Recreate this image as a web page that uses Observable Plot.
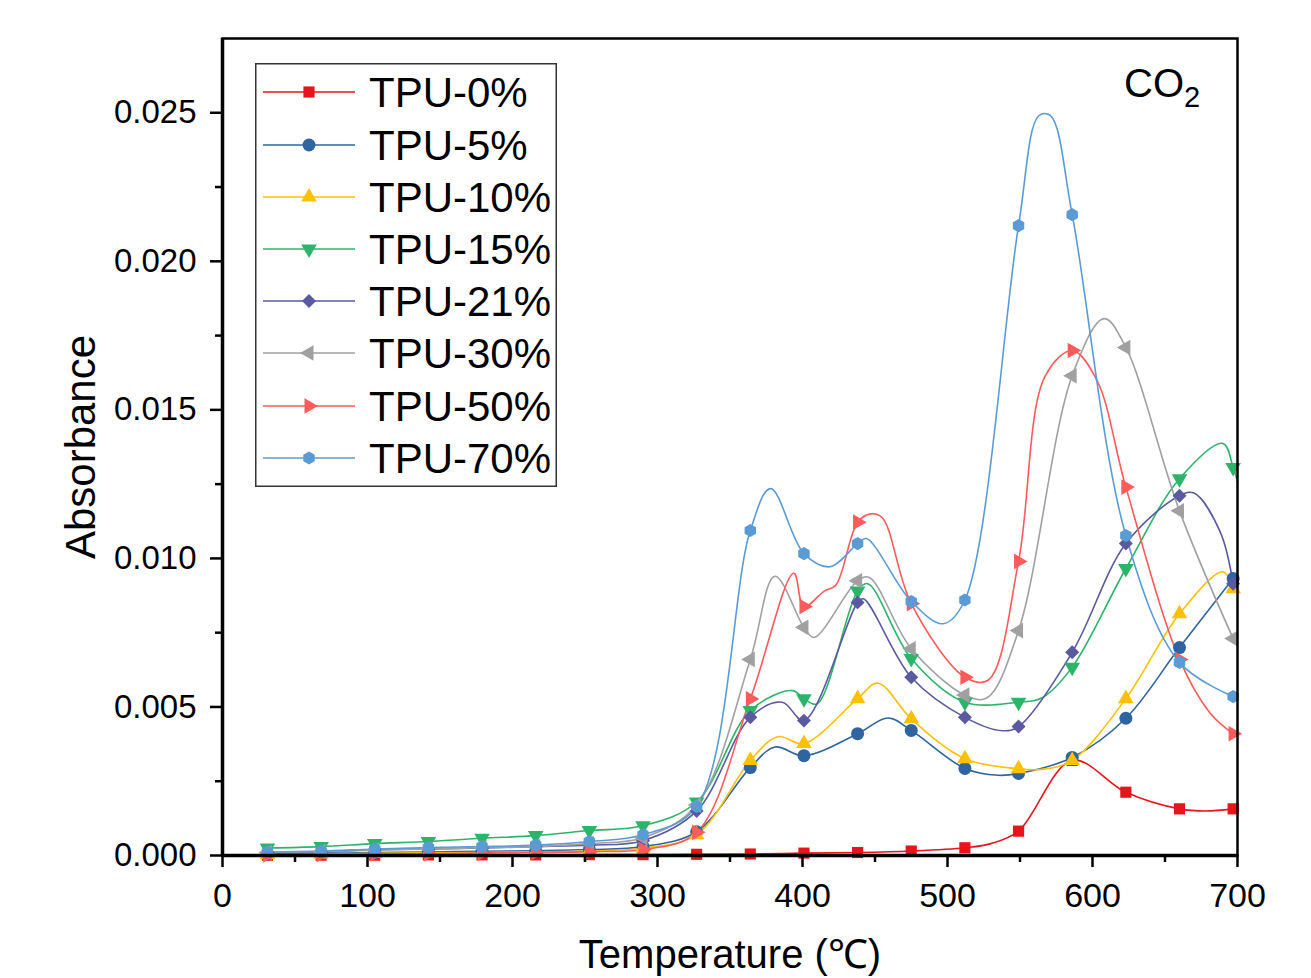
<!DOCTYPE html>
<html><head><meta charset="utf-8">
<script src="https://cdn.jsdelivr.net/npm/d3@7"></script>
<script src="https://cdn.jsdelivr.net/npm/@observablehq/plot@0.6"></script>
<style>
body{margin:0;background:#fff;font-family:"Liberation Sans",Arial,sans-serif;}
#wrap{position:relative;width:1311px;height:978px;overflow:hidden;}
#legend{position:absolute;left:255px;top:63px;}
#co2{position:absolute;left:1124px;top:63px;font-size:40px;color:#000;line-height:1;}
#co2 sub{font-size:29px;vertical-align:-10px;line-height:0;}
</style></head><body><div id="wrap"><div id="co2">CO<sub>2</sub></div></div>
<script>
// ---- data ----
const markerTemps = [31,68,105,142,179,216,253,290,327,364,401,438,475,512,549,586,623,660,697];
const seriesNames = ["TPU-0%","TPU-5%","TPU-10%","TPU-15%","TPU-21%","TPU-30%","TPU-50%","TPU-70%"];
const seriesColors = ["#e8141b","#2e64a0","#ffc000","#2cb56a","#5a5aa0","#a0a0a0","#ff5b5b","#5b9bd5"];

const tpu0  = [0.00001,0.00001,0.00001,0.00002,0.00002,0.00002,0.00003,0.00003,0.00004,0.00005,0.00008,0.0001,0.00015,0.00026,0.00082,0.0032,0.00213,0.00157,0.00157];
const tpu5  = [0.00005,0.00007,0.0001,0.00012,0.00014,0.00016,0.0002,0.0003,0.0008,0.00296,0.00336,0.0041,0.00421,0.00293,0.00276,0.0033,0.00462,0.007,0.00932];
const tpu10 = [0.00003,0.00005,0.00007,0.00009,0.0001,0.00012,0.00015,0.00025,0.0007,0.0032,0.00377,0.00528,0.0046,0.00326,0.00292,0.0032,0.00528,0.00814,0.00898];
const tpu15 = [0.00025,0.0003,0.0004,0.00047,0.00058,0.00067,0.00084,0.001,0.0018,0.00488,0.00528,0.0089,0.00663,0.00516,0.00516,0.00634,0.00966,0.01268,0.01306];
const tpu21 = [0.00008,0.0001,0.0002,0.00022,0.00025,0.0003,0.00035,0.0005,0.0015,0.00465,0.00454,0.00852,0.006,0.00465,0.00434,0.00684,0.0105,0.01211,0.00915];
const tpu30 = [0.0001,0.00013,0.00018,0.00022,0.00026,0.0003,0.0004,0.0006,0.0017,0.0066,0.00768,0.00925,0.00696,0.0054,0.00757,0.01615,0.0171,0.0116,0.0073];
const tpu50 = [0.00002,0.00003,0.00005,0.00006,0.00008,0.0001,0.00013,0.0002,0.00078,0.00527,0.00838,0.01122,0.00848,0.006,0.0099,0.017,0.0124,0.0066,0.0041];
const tpu70 = [0.00012,0.00015,0.00022,0.00027,0.0003,0.00035,0.00047,0.0007,0.00165,0.01094,0.01016,0.0105,0.00855,0.0086,0.0212,0.02157,0.01077,0.0065,0.00535];

// extra line points between markers (peaks / troughs) as [temperature, absorbance]
const extra0  = [[530,0.0004],[678,0.0015]];
const extra5  = [[381,0.00365],[459,0.00463],[535,0.0027]];
const extra10 = [[383,0.004],[452,0.0058],[565,0.0029],[690,0.00955]];
const extra15 = [[393,0.00555],[410,0.0051],[445,0.00915],[565,0.0053],[690,0.01387],[700,0.0126]];
const extra21 = [[386,0.00516],[442,0.00864],[538,0.0042],[670,0.0122],[688,0.0109]];
const extra30 = [[381,0.0094],[408,0.00734],[446,0.00936],[527,0.0053],[608,0.01807]];
const extra50 = [[394,0.0095],[415,0.0089],[423,0.0091],[447,0.0115],[455,0.01137],[528,0.0059],[567,0.0161],[603,0.016],[681,0.0048]];
const extra70 = [[378,0.01235],[419,0.00972],[444,0.01067],[497,0.0078],[563,0.0249],[571,0.0249]];

const xMajor = [0,100,200,300,400,500,600,700];
const xMinor = [50,150,250,350,450,550,650];
const yMajor = [0,0.005,0.01,0.015,0.02,0.025];
const yMinor = [0.0025,0.0075,0.0125,0.0175,0.0225];

// ---- build ----
const hexagon = {draw(ctx, size){const r=Math.sqrt(size/(3*Math.sqrt(3)/2));for(let i=0;i<6;i++){const a=Math.PI/3*i+Math.PI/6;const x=r*Math.cos(a),y=r*Math.sin(a);i?ctx.lineTo(x,y):ctx.moveTo(x,y);}ctx.closePath();}};
const values = [tpu0,tpu5,tpu10,tpu15,tpu21,tpu30,tpu50,tpu70];
const extras = [extra0,extra5,extra10,extra15,extra21,extra30,extra50,extra70];
const symbols = ["square","circle","triangle","triangle","diamond2","triangle","triangle",hexagon];
const d3symbols = [d3.symbolSquare,d3.symbolCircle,d3.symbolTriangle,d3.symbolTriangle,d3.symbolDiamond2,d3.symbolTriangle,d3.symbolTriangle,hexagon];
const rotations = [0,0,0,180,0,-90,90,0];
const radii = [6.3,6.5,5.8,5.8,6.3,5.8,5.8,6];

const marks = [];
seriesNames.forEach((name,i)=>{
  const pts = markerTemps.map((t,k)=>({t, a: values[i][k], s: name}));
  const linePts = pts.concat(extras[i].map(([t,a])=>({t,a,s:name}))).sort((p,q)=>p.t-q.t);
  marks.push(Plot.line(linePts,{x:"t",y:"a",stroke:seriesColors[i],strokeWidth:1.6,curve:"catmull-rom"}));
});
seriesNames.forEach((name,i)=>{
  const pts = markerTemps.map((t,k)=>({t, a: values[i][k], s: name}));
  marks.push(Plot.dot(pts,{x:"t",y:"a",fill:seriesColors[i],stroke:"none",symbol:symbols[i],r:radii[i],rotate:rotations[i]}));
});

const chart = Plot.plot({
  width:1311, height:978,
  marginLeft:222, marginRight:74, marginTop:38, marginBottom:123,
  style:{fontFamily:"Liberation Sans, Arial, sans-serif", background:"#fff", color:"#000", overflow:"visible"},
  x:{domain:[0,700]},
  y:{domain:[0,0.0275]},
  marks:[
    ...marks,
    Plot.frame({stroke:"#000",strokeWidth:2.5}),
    Plot.ruleX([0],{stroke:"#000",strokeWidth:3.5}),
    Plot.ruleY([0],{stroke:"#000",strokeWidth:3.5}),
    Plot.axisX(xMajor,{tickSize:12,tickPadding:15,fontSize:34,strokeWidth:2.5,label:null,tickFormat:d=>String(d)}),
    Plot.axisX(xMinor,{tickSize:7,strokeWidth:2.5,label:null,tickFormat:()=>""}),
    Plot.axisY(yMajor,{tickSize:12,tickPadding:14,fontSize:33,strokeWidth:2.5,label:null,tickFormat:d3.format(".3f")}),
    Plot.axisY(yMinor,{tickSize:7,strokeWidth:2.5,label:null,tickFormat:()=>""}),
    Plot.text(["Temperature (℃)"],{frameAnchor:"bottom",textAnchor:"middle",dy:112,fontSize:40,fill:"#000"}),
    Plot.text(["Absorbance"],{frameAnchor:"left",textAnchor:"middle",dx:-141,rotate:-90,fontSize:42,fill:"#000"})
  ]
});
document.getElementById("wrap").prepend(chart);

// ---- legend ----
const lw=302, lh=424, rowY=[29,82,134,186,238,290,343,395];
const lg = d3.select("#wrap").append("svg").attr("id","legend").attr("width",lw).attr("height",lh);
lg.append("rect").attr("x",0.75).attr("y",0.75).attr("width",lw-1.5).attr("height",lh-1.5).attr("fill","#fff").attr("stroke","#333").attr("stroke-width",1.5);
seriesNames.forEach((name,i)=>{
  const g = lg.append("g").attr("transform",`translate(0,${rowY[i]})`);
  g.append("line").attr("x1",8).attr("x2",100).attr("stroke",seriesColors[i]).attr("stroke-width",1.6);
  const size = Math.PI*radii[i]*radii[i];
  g.append("path").attr("d",d3.symbol(d3symbols[i],size)()).attr("fill",seriesColors[i]).attr("transform",`translate(54,0) rotate(${rotations[i]})`);
  g.append("text").attr("x",114).attr("dy","0.36em").attr("font-size",42).attr("fill","#000").text(name);
});
</script>
</body></html>
